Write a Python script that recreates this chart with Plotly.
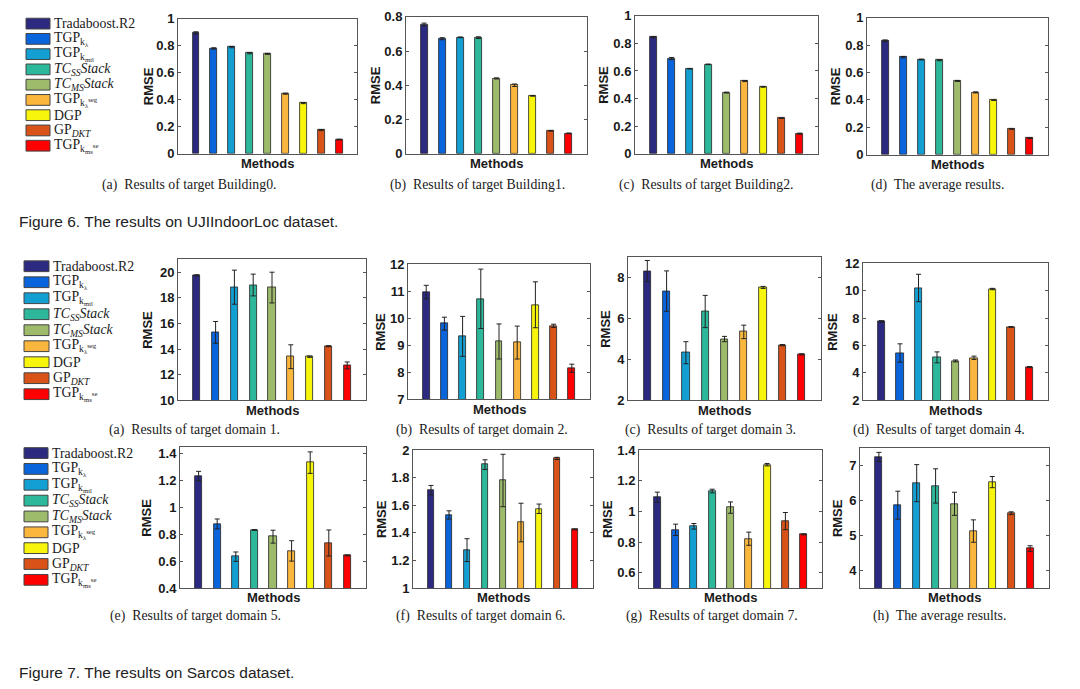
import plotly.graph_objects as go

W, H = 1080, 689

# ---------------- data ----------------
methods = ["Tradaboost.R2", "TGP_klambda", "TGP_kmtl", "TCSSStack", "TCMSStack",
           "TGP_kseg", "DGP", "GP_DKT", "TGP_kms_se"]
legend_labels = [
    "Tradaboost.R2",
    "TGP<sub>k<sub>λ</sub></sub>",
    "TGP<sub>k<sub>mtl</sub></sub>",
    "<i>TC<sub>SS</sub>Stack</i>",
    "<i>TC<sub>MS</sub>Stack</i>",
    "TGP<sub>k<sub>λ</sub><sup>seg</sup></sub>",
    "DGP",
    "GP<sub><i>DKT</i></sub>",
    "TGP<sub>k<sub>ms</sub><sup>se</sup></sub>",
]
colors = ["#2c2a80", "#0a64dc", "#139fd2", "#2db89b", "#9dbb6b",
          "#fbb73d", "#f7f50c", "#d95319", "#fe0000"]

# Figure 6 (UJIIndoorLoc)
b0_rmse = [0.895, 0.78, 0.79, 0.745, 0.74, 0.445, 0.375, 0.175, 0.105]
b0_err = [0.008, 0.005, 0.005, 0.005, 0.004, 0.004, 0.004, 0.004, 0.003]
b1_rmse = [0.755, 0.672, 0.68, 0.678, 0.44, 0.40, 0.338, 0.134, 0.119]
b1_err = [0.008, 0.006, 0.002, 0.005, 0.003, 0.007, 0.002, 0.002, 0.002]
b2_rmse = [0.845, 0.69, 0.616, 0.648, 0.443, 0.527, 0.485, 0.258, 0.145]
b2_err = [0.005, 0.008, 0.002, 0.002, 0.003, 0.004, 0.003, 0.002, 0.004]
bavg_rmse = [0.832, 0.712, 0.695, 0.69, 0.538, 0.455, 0.398, 0.188, 0.121]
bavg_err = [0.006, 0.005, 0.003, 0.004, 0.003, 0.004, 0.002, 0.002, 0.003]

# Figure 7 (Sarcos)
d1_rmse = [19.75, 15.3, 18.83, 19.0, 18.8, 13.4, 13.4, 14.22, 12.72]
d1_err = [0.05, 0.85, 1.33, 0.85, 1.2, 0.93, 0.05, 0.04, 0.27]
d2_rmse = [10.97, 9.8, 9.33, 10.72, 9.14, 9.1, 10.5, 9.72, 8.15]
d2_err = [0.25, 0.24, 0.74, 1.1, 0.65, 0.61, 0.85, 0.06, 0.15]
d3_rmse = [8.33, 7.35, 4.33, 6.35, 5.0, 5.35, 7.53, 4.7, 4.25]
d3_err = [0.52, 0.99, 0.54, 0.79, 0.13, 0.33, 0.05, 0.03, 0.03]
d4_rmse = [7.75, 5.45, 10.2, 5.13, 4.87, 5.1, 10.12, 7.35, 4.42]
d4_err = [0.06, 0.67, 1.0, 0.4, 0.07, 0.12, 0.05, 0.03, 0.04]
d5_rmse = [1.235, 0.878, 0.634, 0.833, 0.783, 0.677, 1.335, 0.736, 0.643]
d5_err = [0.035, 0.037, 0.035, 0.003, 0.048, 0.076, 0.08, 0.097, 0.003]
d6_rmse = [1.71, 1.53, 1.275, 1.895, 1.78, 1.475, 1.575, 1.94, 1.425]
d6_err = [0.034, 0.03, 0.083, 0.035, 0.19, 0.14, 0.034, 0.008, 0.003]
d7_rmse = [1.093, 0.88, 0.903, 1.133, 1.025, 0.822, 1.305, 0.937, 0.85]
d7_err = [0.033, 0.037, 0.018, 0.012, 0.037, 0.043, 0.008, 0.056, 0.003]
davg_rmse = [7.25, 5.87, 6.5, 6.42, 5.91, 5.13, 6.53, 5.64, 4.63]
davg_err = [0.13, 0.4, 0.53, 0.49, 0.33, 0.32, 0.16, 0.04, 0.08]

# tick labels
ticks_01 = ["0", "0.2", "0.4", "0.6", "0.8", "1"]
ticks_008 = ["0", "0.2", "0.4", "0.6", "0.8"]
ticks_d1 = ["10", "12", "14", "16", "18", "20"]
ticks_d2 = ["7", "8", "9", "10", "11", "12"]
ticks_d3 = ["2", "4", "6", "8"]
ticks_d4 = ["2", "4", "6", "8", "10", "12"]
ticks_d5 = ["0.4", "0.6", "0.8", "1", "1.2", "1.4"]
ticks_d6 = ["1", "1.2", "1.4", "1.6", "1.8", "2"]
ticks_d7 = ["0.6", "0.8", "1", "1.2", "1.4"]
ticks_davg = ["4", "5", "6", "7"]

captions = [
    "(a)  Results of target Building0.", "(b)  Results of target Building1.",
    "(c)  Results of target Building2.", "(d)  The average results.",
    "(a)  Results of target domain 1.", "(b)  Results of target domain 2.",
    "(c)  Results of target domain 3.", "(d)  Results of target domain 4.",
    "(e)  Results of target domain 5.", "(f)  Results of target domain 6.",
    "(g)  Results of target domain 7.", "(h)  The average results.",
]
fig_captions = ["Figure 6. The results on UJIIndoorLoc dataset.",
                "Figure 7. The results on Sarcos dataset."]

# ---------------- panel layout (pixels) ----------------
# (left, right, top, bottom, ymin, ymax, tick labels, data, err, caption x, caption y, rmse offset)
panels = [
    (178, 357, 12, 150, 0, 1, ticks_01, b0_rmse, b0_err, 189, 182, 30),
    (406, 587, 10, 150, 0, 0.8, ticks_008, b1_rmse, b1_err, 477, 182, 31),
    (635, 818, 9, 150, 0, 1, ticks_01, b2_rmse, b2_err, 706, 182, 31),
    (867, 1048, 11, 151, 0, 1, ticks_01, bavg_rmse, bavg_err, 937, 182, 32),
    (178, 366, 258, 402, 10, 21, ticks_d1, d1_rmse, d1_err, 194, 432, 30),
    (408, 590, 263, 401, 7, 12, ticks_d2, d2_rmse, d2_err, 482, 432, 27),
    (628, 821, 256, 402, 2, 9, ticks_d3, d3_rmse, d3_err, 710, 432, 22),
    (863, 1048, 262, 402, 2, 12, ticks_d4, d4_rmse, d4_err, 939, 432, 30),
    (180, 366, 450, 594, 0.4, 1.45, ticks_d5, d5_rmse, d5_err, 195, 623, 33),
    (413, 593, 453, 594, 1, 2, ticks_d6, d6_rmse, d6_err, 481, 623, 32),
    (639, 822, 453, 594, 0.5, 1.4, ticks_d7, d7_rmse, d7_err, 712, 623, 32),
    (860, 1049, 451, 594, 3.5, 7.5, ticks_davg, davg_rmse, davg_err, 939, 623, 23),
]

def fx(x):
    return x / W

def fy(y):
    return 1 - y / H

LINE = "#555555"
TXT = "#1a1a1a"
SANS = "Liberation Sans, Arial, sans-serif"
SERIF = "Liberation Serif, Times New Roman, serif"

fig = go.Figure()
annotations = []
shapes = []
layout_axes = {}

xs = list(range(1, len(methods) + 1))

for i, (l, r, t, b, ymin, ymax, tl, vals, errs, cx, cy, roff) in enumerate(panels):
    n = i + 1
    xa = "x" if n == 1 else f"x{n}"
    ya = "y" if n == 1 else f"y{n}"
    fig.add_trace(go.Bar(
        x=xs, y=vals,
        marker=dict(color=colors, line=dict(color="#222222", width=0.8)),
        width=0.38,
        error_y=dict(type="data", array=errs, visible=True, color="#222222",
                     thickness=1, width=2.5),
        xaxis=xa, yaxis=ya, hoverinfo="skip", showlegend=False,
    ))
    tv = [float(s) for s in tl]
    layout_axes["xaxis" if n == 1 else f"xaxis{n}"] = dict(
        domain=[fx(l), fx(r)], range=[0, 10], anchor=ya,
        showticklabels=False, ticks="", showgrid=False, zeroline=False,
        showline=True, mirror=True, linecolor=LINE, linewidth=1, fixedrange=True,
    )
    layout_axes["yaxis" if n == 1 else f"yaxis{n}"] = dict(
        domain=[fy(b), fy(t)], range=[ymin, ymax], anchor=xa,
        tickvals=tv, ticktext=tl, ticks="inside", ticklen=3, tickcolor=LINE,
        showgrid=False, zeroline=False, showline=True, mirror="ticks",
        linecolor=LINE, linewidth=1, fixedrange=True,
        tickfont=dict(family=SANS, size=13, color=TXT, weight="bold"),
    )
    annotations.append(dict(
        x=fx((l + r) / 2), y=fy(b + 10), xref="paper", yref="paper",
        text="Methods", showarrow=False, xanchor="center", yanchor="middle",
        font=dict(family=SANS, size=13, color=TXT, weight="bold"),
    ))
    annotations.append(dict(
        x=fx(l - roff), y=fy((t + b) / 2), xref="paper", yref="paper",
        text="RMSE", showarrow=False, xanchor="center", yanchor="middle",
        textangle=-90,
        font=dict(family=SANS, size=13, color=TXT, weight="bold"),
    ))
    annotations.append(dict(
        x=fx(cx), y=fy(cy), xref="paper", yref="paper",
        text=captions[i], showarrow=False, xanchor="center", yanchor="middle",
        font=dict(family=SERIF, size=13.8, color=TXT),
    ))

# legends (one per row)
legend_rows = [(26, 50, 17, 15.6), (24, 49, 265, 16.35), (24, 48, 456, 16.2)]
for (bl, br, y0, dy) in legend_rows:
    for k, lab in enumerate(legend_labels):
        yc = y0 + dy * k
        shapes.append(dict(
            type="rect", xref="paper", yref="paper",
            x0=fx(bl), x1=fx(br), y0=fy(yc + 5.5), y1=fy(yc - 5.5),
            fillcolor=colors[k], line=dict(color="#444444", width=1),
        ))
        annotations.append(dict(
            x=fx(br + 2), y=fy(yc), xref="paper", yref="paper",
            text=lab, showarrow=False, xanchor="left", yanchor="middle",
            font=dict(family=SERIF, size=13.8, color=TXT),
        ))

# figure captions
for txt, yy in zip(fig_captions, [219, 680]):
    annotations.append(dict(
        x=fx(17), y=fy(yy), xref="paper", yref="paper", text=txt,
        showarrow=False, xanchor="left", yanchor="middle",
        font=dict(family=SANS, size=15.5, color="#222222"),
    ))

fig.update_layout(
    width=W, height=H, margin=dict(l=0, r=0, t=0, b=0),
    paper_bgcolor="white", plot_bgcolor="white", showlegend=False,
    annotations=annotations, shapes=shapes, bargap=0,
    **layout_axes,
)

fig.write_html("out.html", config={"displayModeBar": False},
               post_script="document.body.style.margin='0';document.body.style.padding='0';document.body.style.overflow='hidden';")
